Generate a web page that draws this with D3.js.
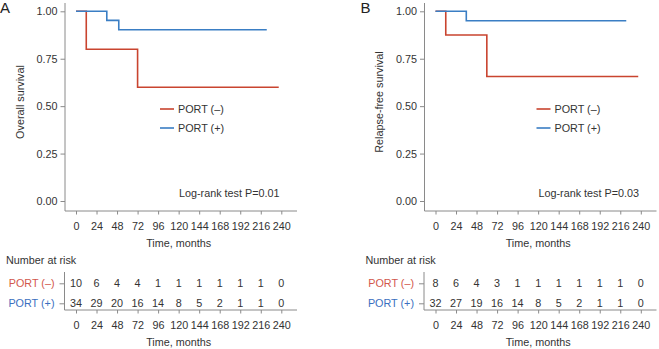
<!doctype html>
<html lang="en">
<head>
  <meta charset="utf-8">
  <title>Kaplan-Meier PORT</title>
  <script src="https://d3js.org/d3.v7.min.js"></script>
  <style>
    body { margin: 0; background: #fff; }
    text { font-family: "Liberation Sans", Arial, sans-serif; }
  </style>
</head>
<body>
  <div id="chart"></div>
  <script type="text/javascript">

    var width = 659, height = 349;

    // data
    var timeTicks = [0, 24, 48, 72, 96, 120, 144, 168, 192, 216, 240];
    var survTicks = [0, 0.25, 0.5, 0.75, 1];
    var groups = ['PORT (\u2013)', 'PORT (+)'];

    // panel A: overall survival, [month, survival]
    var osMinus = [[0, 1], [12, 0.8], [72, 0.6], [237, 0.6]];
    var osPlus = [[0, 1], [36, 0.952], [50, 0.903], [223, 0.903]];
    var osRiskMinus = [10, 6, 4, 4, 1, 1, 1, 1, 1, 1, 0];
    var osRiskPlus = [34, 29, 20, 16, 14, 8, 5, 2, 1, 1, 0];

    // panel B: relapse-free survival
    var rfsMinus = [[0, 1], [12, 0.875], [60, 0.656], [237, 0.656]];
    var rfsPlus = [[0, 1], [36, 0.95], [223, 0.95]];
    var rfsRiskMinus = [8, 6, 4, 3, 1, 1, 1, 1, 1, 1, 0];
    var rfsRiskPlus = [32, 27, 19, 16, 14, 8, 5, 2, 1, 1, 0];

    var red = '#c9442f', blue = '#3a7ec4';
    var redLabel = '#d2574c', blueLabel = '#3b6fc0';
    var axisColor = '#8a8a8a', textColor = '#333';
    var fs = 10.8;

    var svg = d3.select('#chart')
                .append('svg')
                .attr('width', width)
                .attr('height', height);

    function panel(dx, letter, ylabel, minus, plus, riskMinus, riskPlus, pText) {
      var g = svg.append('g').attr('transform', 'translate(' + dx + ',0)');

      var x = d3.scaleLinear().domain([0, 240]).range([76, 281.3]);
      var y = d3.scaleLinear().domain([0, 1]).range([201, 11.3]);

      // frame lines
      g.append('line').attr('x1', 65).attr('x2', 65).attr('y1', 3).attr('y2', 211)
        .attr('stroke', axisColor).attr('stroke-width', 1);
      g.append('line').attr('x1', 65).attr('x2', 297).attr('y1', 211).attr('y2', 211)
        .attr('stroke', axisColor).attr('stroke-width', 1);

      var yAxis = g.append('g').attr('transform', 'translate(65,0)')
        .call(d3.axisLeft(y).tickValues(survTicks).tickFormat(d3.format('.2f')).tickSize(4.5).tickPadding(3));
      var xAxis = g.append('g').attr('transform', 'translate(0,211)')
        .call(d3.axisBottom(x).tickValues(timeTicks).tickSize(3.5).tickPadding(8));
      [yAxis, xAxis].forEach(function(a) {
        a.select('.domain').remove();
        a.selectAll('line').attr('stroke', axisColor);
        a.selectAll('text').attr('font-size', fs).attr('font-family', null).attr('fill', textColor);
      });

      g.append('text').attr('x', (x(0) + x(240)) / 2).attr('y', 246.5)
        .attr('text-anchor', 'middle').attr('font-size', fs).attr('fill', textColor).text('Time, months');

      g.append('text').attr('x', 20).attr('y', 102).attr('font-size', fs).attr('fill', textColor)
        .attr('text-anchor', 'middle')
        .attr('transform', 'rotate(-90,20,102)').attr('dy', '0.35em').text(ylabel);

      g.append('text').attr('x', dx === 0 ? 0 : 1).attr('y', 13).attr('font-size', 15)
        .attr('fill', '#222').text(letter);

      var line = d3.line().x(function(d) { return x(d[0]); }).y(function(d) { return y(d[1]); })
                   .curve(d3.curveStepAfter);
      g.append('path').datum(minus).attr('d', line).attr('fill', 'none')
        .attr('stroke', red).attr('stroke-width', 1.6);
      g.append('path').datum(plus).attr('d', line).attr('fill', 'none')
        .attr('stroke', blue).attr('stroke-width', 1.6);

      // legend
      var legX = 160 + (dx === 0 ? 0 : 17);
      [[groups[0], red, 109], [groups[1], blue, 128]].forEach(function(l) {
        g.append('line').attr('x1', legX).attr('x2', legX + 14).attr('y1', l[2]).attr('y2', l[2])
          .attr('stroke', l[1]).attr('stroke-width', 1.6);
        g.append('text').attr('x', legX + 18).attr('y', l[2]).attr('dy', '0.35em')
          .attr('font-size', fs).attr('fill', textColor).text(l[0]);
      });

      g.append('text').attr('x', 279.5).attr('y', 193).attr('dy', '0.35em')
        .attr('text-anchor', 'end').attr('font-size', fs).attr('fill', textColor).text(pText);

      // number at risk table
      g.append('text').attr('x', 6).attr('y', 260).attr('dy', '0.35em')
        .attr('font-size', fs).attr('fill', textColor).text('Number at risk');

      var r = d3.scalePoint().domain(groups).range([283.3, 303.3]);
      g.append('line').attr('x1', 64.5).attr('x2', 64.5).attr('y1', 272).attr('y2', 310)
        .attr('stroke', axisColor);
      g.append('line').attr('x1', 64.5).attr('x2', 297).attr('y1', 310).attr('y2', 310)
        .attr('stroke', axisColor);
      var rAxis = g.append('g').attr('transform', 'translate(64.5,0)')
        .call(d3.axisLeft(r).tickSize(5).tickPadding(5));
      var tAxis = g.append('g').attr('transform', 'translate(0,310)')
        .call(d3.axisBottom(x).tickValues(timeTicks).tickSize(3.5).tickPadding(8));
      [rAxis, tAxis].forEach(function(a) {
        a.select('.domain').remove();
        a.selectAll('line').attr('stroke', axisColor);
        a.selectAll('text').attr('font-size', fs).attr('font-family', null).attr('fill', textColor);
      });
      rAxis.selectAll('text').attr('fill', function(d, i) { return i === 0 ? redLabel : blueLabel; });

      g.append('text').attr('x', (x(0) + x(240)) / 2).attr('y', 346)
        .attr('text-anchor', 'middle').attr('font-size', fs).attr('fill', textColor).text('Time, months');

      // numbers at risk under each time tick
      [riskMinus, riskPlus].forEach(function(row, k) {
        g.selectAll('.risk' + k).data(row).enter().append('text')
          .attr('class', 'risk' + k)
          .attr('x', function(d, i) { return x(timeTicks[i]); })
          .attr('y', r(groups[k])).attr('dy', '0.35em')
          .attr('text-anchor', 'middle').attr('font-size', fs).attr('fill', textColor)
          .text(function(d) { return d; });
      });
    }

    panel(0, 'A', 'Overall survival', osMinus, osPlus, osRiskMinus, osRiskPlus, 'Log-rank test P=0.01');
    panel(359.5, 'B', 'Relapse-free survival', rfsMinus, rfsPlus, rfsRiskMinus, rfsRiskPlus, 'Log-rank test P=0.03');

  </script>
</body>
</html>
